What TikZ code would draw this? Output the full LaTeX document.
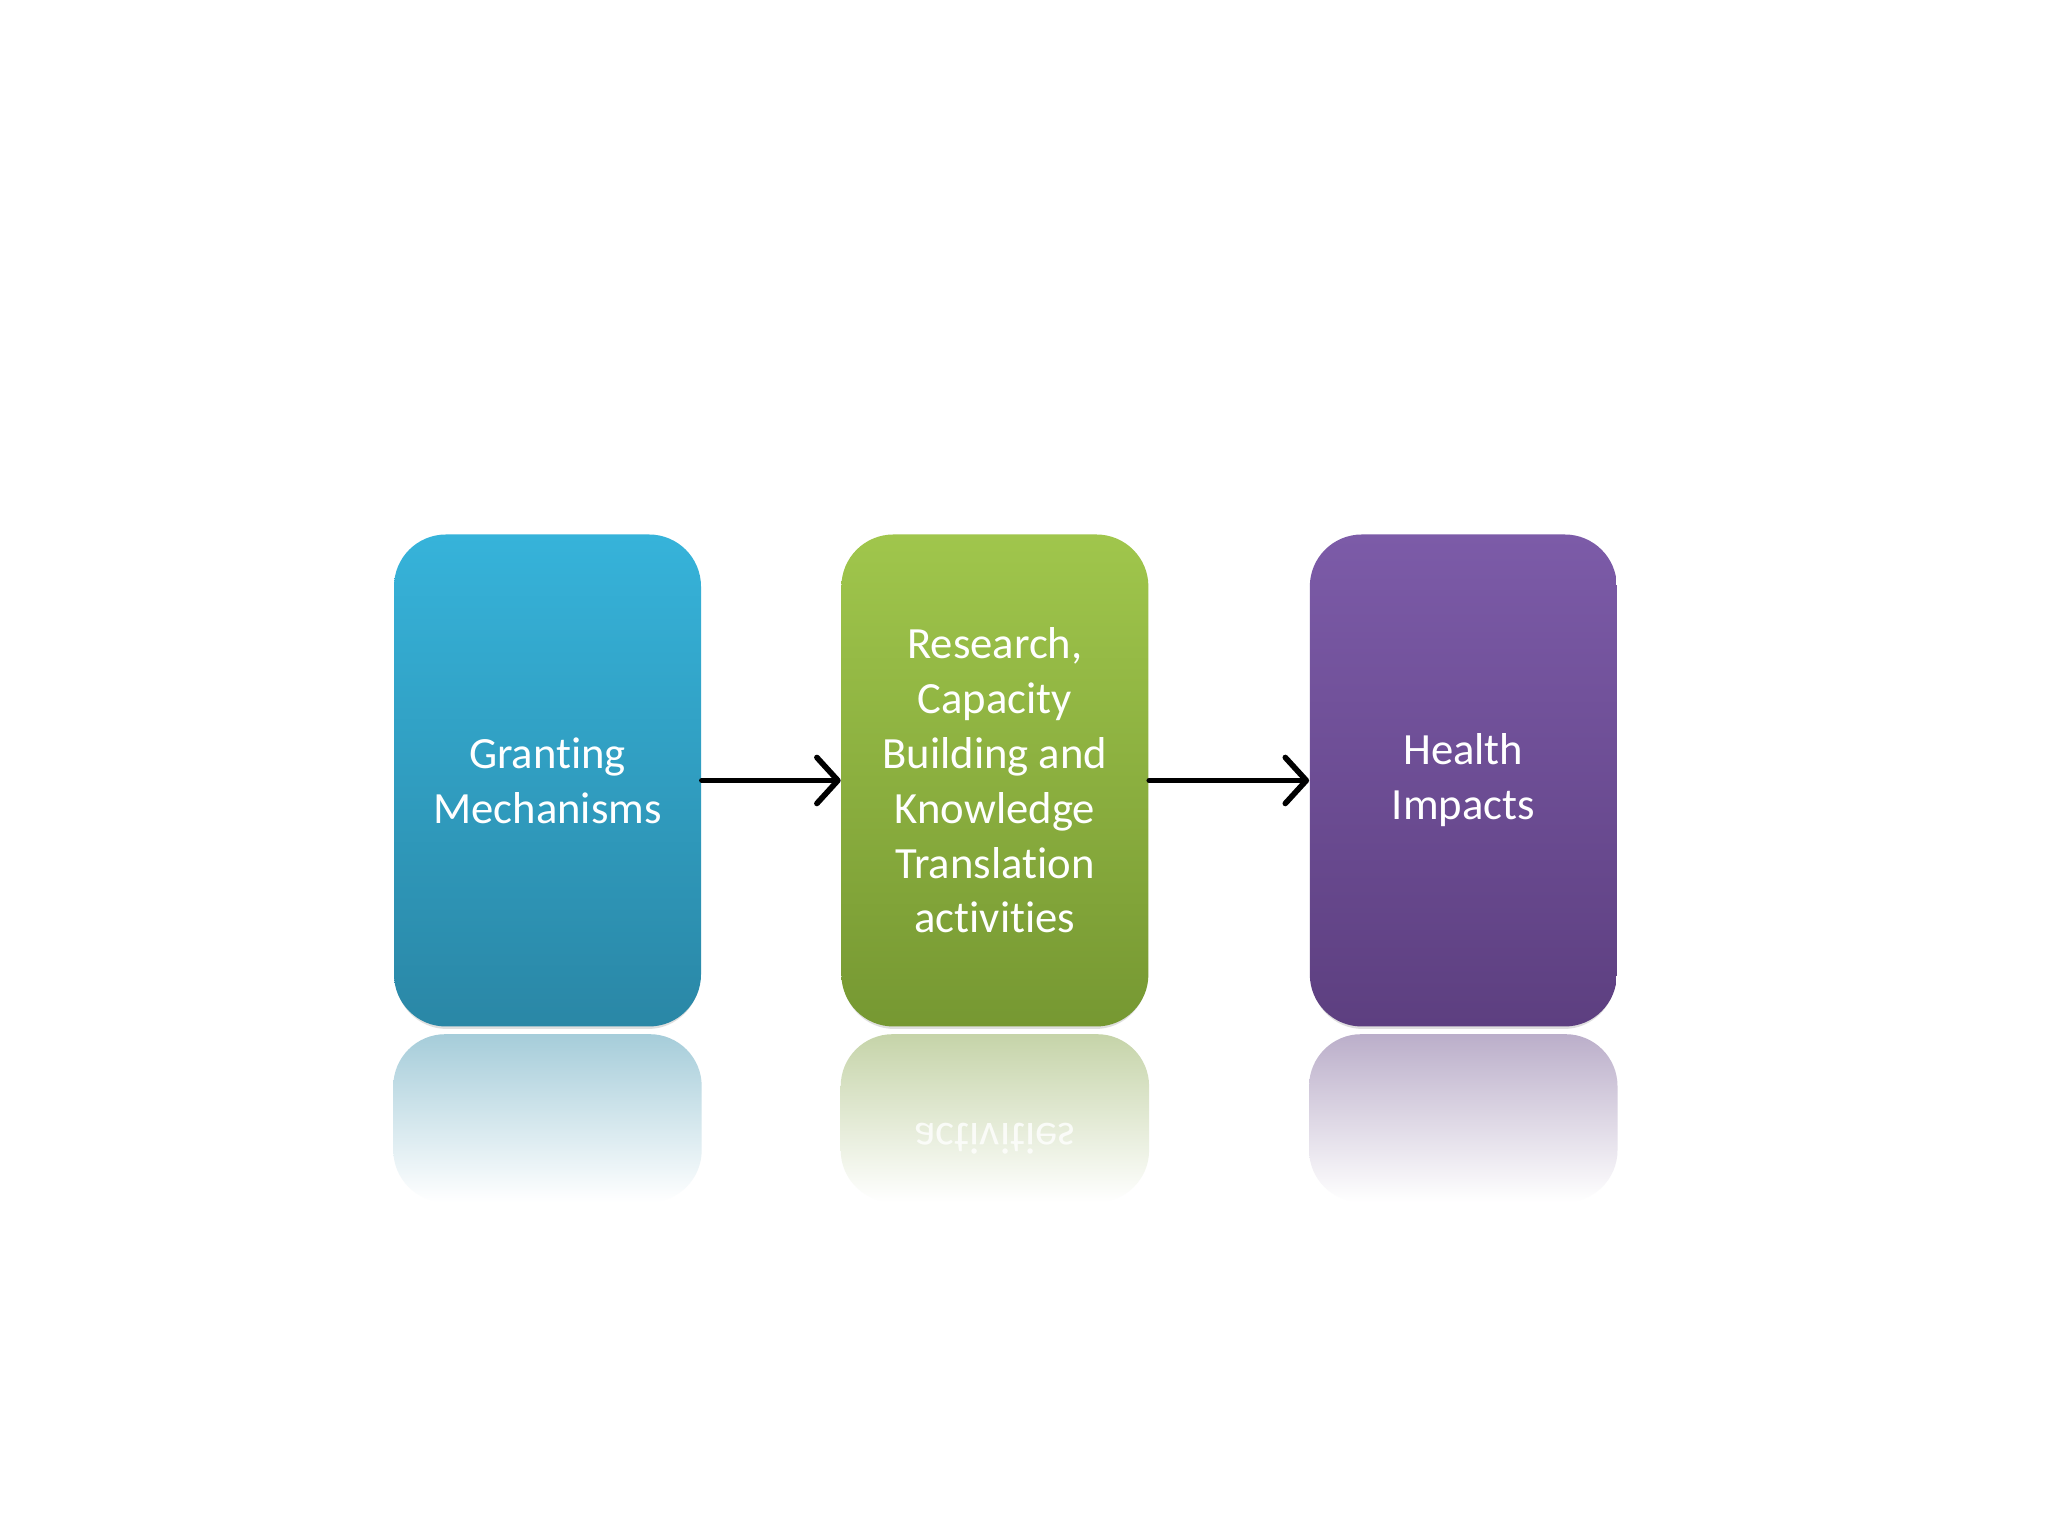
\documentclass[tikz,border=0pt]{standalone}
\usepackage{fontspec}
\setmainfont{Carlito}[Ligatures={NoCommon, NoRequired, NoContextual}]
\usepackage{tikz}
\usetikzlibrary{positioning, arrows.meta, shadows}

\definecolor{azulA}{HTML}{36B3DA}
\definecolor{azulB}{HTML}{2A87A6}
\definecolor{verdeA}{HTML}{A0C64C}
\definecolor{verdeB}{HTML}{769832}
\definecolor{moradoA}{HTML}{7C5BA8}
\definecolor{moradoB}{HTML}{5D3F80}

\begin{document}
\begin{tikzpicture}[
	caja/.style={rounded corners=0.52cm, minimum width=3.07cm, minimum height=4.92cm,
		align=center, text=white, font=\fontsize{12.7}{15.6}\selectfont,
		drop shadow={shadow xshift=0pt, shadow yshift=-0.05cm, shadow scale=0.99, opacity=0.25}},
	reflejo/.style={rounded corners=0.52cm},
	flecha/.style={line width=1.5pt, line cap=round,
		-{Straight Barb[length=2.1mm, width=4.6mm, line width=1.6pt, round]}}
	]

			% Área del dibujo
			\fill[white] (0,0) rectangle (20.48,15.36);
			\useasboundingbox (0,0) rectangle (20.48,15.36);

			% Cajas
			\node[caja, top color=azulA, bottom color=azulB] (grant) at (5.475,7.555) {Granting\\Mechanisms};
			\node[caja, top color=verdeA, bottom color=verdeB, right=1.39cm of grant] (research) {Research,\\Capacity\\Building and\\Knowledge\\Translation\\activities};
			\node[caja, top color=moradoA, bottom color=moradoB, right=1.60cm of research] (health) {Health\\Impacts};

			% Reflejos de las cajas
			\shade[reflejo, top color=azulB!42!white, bottom color=white] ([yshift=-0.07cm]grant.south west) rectangle ([yshift=-1.75cm]grant.south east);
			\shade[reflejo, top color=verdeB!42!white, bottom color=white] ([yshift=-0.07cm]research.south west) rectangle ([yshift=-1.75cm]research.south east);
			\shade[reflejo, top color=moradoB!42!white, bottom color=white] ([yshift=-0.07cm]health.south west) rectangle ([yshift=-1.75cm]health.south east);
			\node[yscale=-1, text=white, opacity=0.8, font=\fontsize{12.7}{15.6}\selectfont] (reflact) at ([yshift=-1.12cm]research.south) {activities};

			% Flechas
			\draw[flecha] (grant.east) -- (research.west);
			\draw[flecha] (research.east) -- (health.west);

		\end{tikzpicture}
\end{document}
